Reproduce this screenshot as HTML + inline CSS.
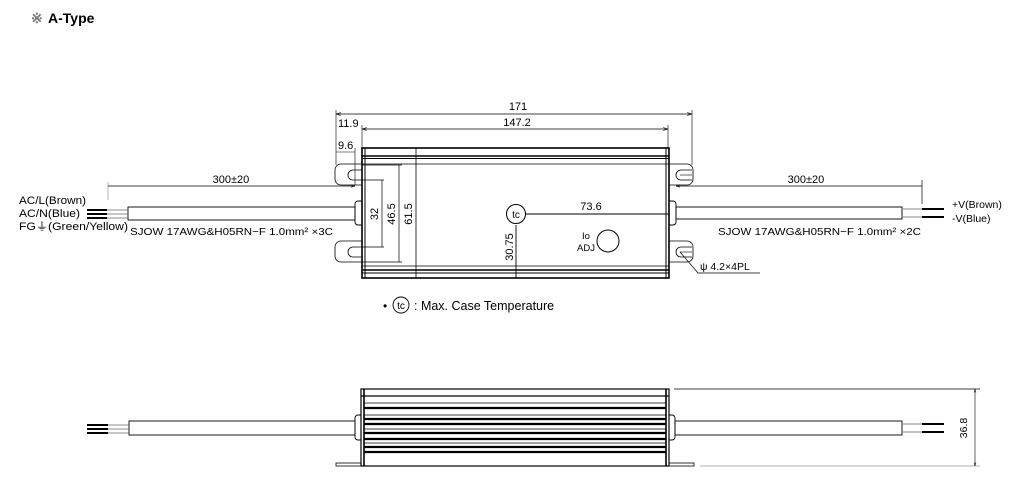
<!DOCTYPE html>
<html><head><meta charset="utf-8"><style>
html,body{margin:0;padding:0;background:#fff;}
svg{display:block;font-family:"Liberation Sans",sans-serif;}
</style></head><body>
<svg width="1016" height="483" viewBox="0 0 1016 483" xmlns="http://www.w3.org/2000/svg">
<g fill="#000">
<text x="31" y="23" font-size="14" font-weight="bold" fill="#777">※</text>
<text x="48" y="23" font-size="14" font-weight="bold">A-Type</text>
</g>
<defs>
<marker id="a" viewBox="0 0 10 10" refX="10" refY="5" markerWidth="6" markerHeight="6" orient="auto-start-reverse"><path d="M0,2 L10,5 L0,8" fill="none" stroke="#000" stroke-width="1.2"/></marker>
</defs>
<g stroke="#000" fill="none" stroke-width="1">
<line x1="336" y1="114" x2="692" y2="114" marker-start="url(#a)" marker-end="url(#a)" stroke-width="0.8"/>
<line x1="362" y1="129" x2="668" y2="129" marker-start="url(#a)" marker-end="url(#a)" stroke-width="0.8"/>
<line x1="336" y1="110" x2="336" y2="165" stroke-width="0.6"/>
<line x1="692" y1="110" x2="692" y2="165" stroke-width="0.6"/>
<line x1="362" y1="125" x2="362" y2="148" stroke-width="0.6"/>
<line x1="668" y1="125" x2="668" y2="148" stroke-width="0.6"/>
<line x1="355" y1="148" x2="355" y2="185" stroke-width="0.6"/>
<line x1="336" y1="152" x2="355" y2="152" stroke-width="0.6"/>
<path d="M362,164 H341 a6,6 0 0 0 -6,6 v9 a6,6 0 0 0 6,6 H362" stroke-width="0.8"/>
<path d="M362,241 H341 a6,6 0 0 0 -6,6 v9 a6,6 0 0 0 6,6 H362" stroke-width="0.8"/>
<path d="M362,170 h-9 a4,4 0 0 0 0,10 h9" stroke-width="0.8"/>
<path d="M362,247 h-9 a4,4 0 0 0 0,10 h9" stroke-width="0.8"/>
<path d="M669,164 H687 a6,6 0 0 1 6,6 v9 a6,6 0 0 1 -6,6 H669" stroke-width="0.8"/>
<path d="M669,241 H687 a6,6 0 0 1 6,6 v9 a6,6 0 0 1 -6,6 H669" stroke-width="0.8"/>
<path d="M692,170 h-11 a4,4 0 0 0 0,10 h11" stroke-width="0.8"/>
<path d="M692,247 h-11 a4,4 0 0 0 0,10 h11" stroke-width="0.8"/>
<line x1="680" y1="175" x2="692" y2="175" stroke-width="0.6"/>
<line x1="680" y1="252" x2="692" y2="252" stroke-width="0.6"/>
<rect x="362" y="148" width="307" height="130" stroke-width="1.6"/>
<line x1="362" y1="156" x2="669" y2="156" stroke-width="1.6"/>
<line x1="362" y1="158.5" x2="669" y2="158.5" stroke-width="1"/>
<line x1="362" y1="164" x2="669" y2="164" stroke-width="0.8"/>
<line x1="362" y1="266" x2="669" y2="266" stroke-width="0.8"/>
<line x1="362" y1="270" x2="669" y2="270" stroke-width="1.6"/>
<line x1="362" y1="273" x2="669" y2="273" stroke-width="1"/>
<line x1="365" y1="148" x2="365" y2="278" stroke-width="1"/>
<line x1="666" y1="148" x2="666" y2="278" stroke-width="1"/>
<line x1="416" y1="148" x2="416" y2="278" stroke-width="0.8"/>
<line x1="362" y1="165" x2="402" y2="165" stroke-width="0.7"/>
<line x1="362" y1="262" x2="402" y2="262" stroke-width="0.7"/>
<line x1="399" y1="165" x2="399" y2="262" stroke-width="0.7"/>
<line x1="362" y1="180" x2="384" y2="180" stroke-width="0.7"/>
<line x1="362" y1="247" x2="384" y2="247" stroke-width="0.7"/>
<line x1="382" y1="180" x2="382" y2="247" stroke-width="0.7"/>
<circle cx="516" cy="214" r="9.5" stroke-width="1"/>
<line x1="526" y1="214" x2="669" y2="214" stroke-width="0.9"/>
<line x1="516" y1="225" x2="516" y2="278" stroke-width="0.9"/>
<circle cx="608" cy="241" r="11" stroke-width="1"/>
<path d="M362,201 h-4 a3,3 0 0 0 -3,3 v18 a3,3 0 0 0 3,3 h4" stroke-width="0.9"/>
<path d="M669,201 h4 a3,3 0 0 1 3,3 v18 a3,3 0 0 1 -3,3 h-4" stroke-width="0.9"/>
<rect x="128" y="207" width="227" height="13" stroke-width="0.9"/>
<line x1="108" y1="182" x2="108" y2="200" stroke="#999" stroke-width="0.7"/>
<line x1="108" y1="186" x2="355" y2="186" marker-end="url(#a)" stroke-width="0.7"/>
<rect x="676" y="207" width="226" height="12" stroke-width="0.9"/>
<line x1="922" y1="180" x2="922" y2="204" stroke-width="0.7"/>
<line x1="676" y1="186" x2="922" y2="186" marker-start="url(#a)" stroke-width="0.7"/>
<line x1="902" y1="209" x2="922" y2="209" stroke="#888" stroke-width="1"/>
<line x1="902" y1="217" x2="922" y2="217" stroke="#888" stroke-width="1"/>
<line x1="922" y1="209" x2="944" y2="209" stroke-width="2"/>
<line x1="922" y1="217" x2="944" y2="217" stroke-width="2"/>
<polyline points="680,252 698,273 760,273" stroke-width="0.7"/>
<rect x="361" y="389" width="308" height="77" stroke-width="1.2"/>
<line x1="361" y1="396" x2="669" y2="396" stroke-width="1.2"/>
<line x1="364" y1="389" x2="364" y2="466" stroke-width="1.6"/>
<line x1="666" y1="389" x2="666" y2="466" stroke-width="1.6"/>
<g stroke-width="0.8"><line x1="364" y1="403" x2="666" y2="403"/><line x1="364" y1="415" x2="666" y2="415"/><line x1="364" y1="429" x2="666" y2="429"/><line x1="364" y1="443" x2="666" y2="443"/></g>
<g stroke-width="2.2"><line x1="364" y1="408" x2="666" y2="408"/><line x1="364" y1="419" x2="666" y2="419"/><line x1="364" y1="424" x2="666" y2="424"/><line x1="364" y1="433" x2="666" y2="433"/><line x1="364" y1="439" x2="666" y2="439"/><line x1="364" y1="447" x2="666" y2="447"/><line x1="364" y1="452" x2="666" y2="452"/></g>
<rect x="336" y="463" width="25" height="3" stroke-width="0.8"/>
<rect x="669" y="463" width="25" height="3" stroke-width="0.8"/>
<path d="M361,415 h-3 a3,3 0 0 0 -3,3 v19 a3,3 0 0 0 3,3 h3" stroke-width="0.9"/>
<path d="M669,415 h3 a3,3 0 0 1 3,3 v19 a3,3 0 0 1 -3,3 h-3" stroke-width="0.9"/>
<rect x="129" y="421" width="226" height="14" stroke-width="0.9"/>
<rect x="675" y="421" width="227" height="14" stroke-width="0.9"/>
<line x1="902" y1="424" x2="922" y2="424" stroke="#888"/>
<line x1="902" y1="432" x2="922" y2="432" stroke="#888"/>
<line x1="922" y1="424" x2="944" y2="424" stroke-width="2"/>
<line x1="922" y1="432" x2="944" y2="432" stroke-width="2"/>
<line x1="674" y1="389" x2="980" y2="389" stroke-width="0.7"/>
<line x1="700" y1="466" x2="980" y2="466" stroke="#999" stroke-width="0.7"/>
<line x1="975" y1="389" x2="975" y2="466" marker-start="url(#a)" marker-end="url(#a)" stroke-width="0.6"/>
</g>
<g stroke-width="2"><line x1="87" y1="210" x2="107" y2="210" stroke="#000"/><line x1="87" y1="214" x2="107" y2="214" stroke="#000"/><line x1="87" y1="218" x2="107" y2="218" stroke="#000"/></g>
<g stroke-width="0.8" stroke="#666"><line x1="107" y1="210" x2="128" y2="210"/><line x1="107" y1="214" x2="128" y2="214"/><line x1="107" y1="218" x2="128" y2="218"/></g>
<g stroke-width="2"><line x1="87" y1="425" x2="108" y2="425" stroke="#000"/><line x1="87" y1="429" x2="108" y2="429" stroke="#000"/><line x1="87" y1="433" x2="108" y2="433" stroke="#000"/></g>
<g stroke-width="0.8" stroke="#666"><line x1="108" y1="425" x2="129" y2="425"/><line x1="108" y1="429" x2="129" y2="429"/><line x1="108" y1="433" x2="129" y2="433"/></g>
<g fill="#000" font-size="11">
<text x="518" y="110" text-anchor="middle">171</text>
<text x="517" y="126" text-anchor="middle">147.2</text>
<text x="338" y="127">11.9</text>
<text x="338" y="149">9.6</text>
<text x="231" y="183" text-anchor="middle">300±20</text>
<text x="806" y="183" text-anchor="middle">300±20</text>
<text x="591" y="210" text-anchor="middle">73.6</text>
<text x="516" y="218" text-anchor="middle" font-size="10">tc</text>
<text x="586" y="239" font-size="9.5" text-anchor="middle">Io</text>
<text x="586" y="251" font-size="9.5" text-anchor="middle">ADJ</text>
<text transform="translate(378,214) rotate(-90)" text-anchor="middle">32</text>
<text transform="translate(395,214) rotate(-90)" text-anchor="middle">46.5</text>
<text transform="translate(412,214) rotate(-90)" text-anchor="middle">61.5</text>
<text transform="translate(513,247) rotate(-90)" text-anchor="middle">30.75</text>
<text x="19" y="204" font-size="11" textLength="67" lengthAdjust="spacingAndGlyphs">AC/L(Brown)</text>
<text x="19" y="217" font-size="11" textLength="61" lengthAdjust="spacingAndGlyphs">AC/N(Blue)</text>
<text x="19" y="230" font-size="11" textLength="109" lengthAdjust="spacingAndGlyphs">FG⏚(Green/Yellow)</text>
<text x="130" y="235" font-size="10.5" textLength="203" lengthAdjust="spacingAndGlyphs">SJOW 17AWG&amp;H05RN−F  1.0mm² ×3C</text>
<text x="718" y="235" font-size="10.5" textLength="203" lengthAdjust="spacingAndGlyphs">SJOW 17AWG&amp;H05RN−F  1.0mm² ×2C</text>
<text x="952" y="208" font-size="10.5">+V(Brown)</text>
<text x="952" y="222" font-size="10.5">-V(Blue)</text>
<text x="700" y="270" font-size="10.5">ψ 4.2×4PL</text>
<text x="383" y="310" font-size="12">•</text>
<text x="401" y="309" font-size="10" text-anchor="middle">tc</text>
<text x="414" y="310" font-size="12.5">: Max. Case Temperature</text>
<text transform="translate(967,428) rotate(-90)" text-anchor="middle" font-size="10.5">36.8</text>
</g>
<circle cx="401" cy="305" r="8" fill="none" stroke="#000" stroke-width="0.9"/>
</svg>
</body></html>
